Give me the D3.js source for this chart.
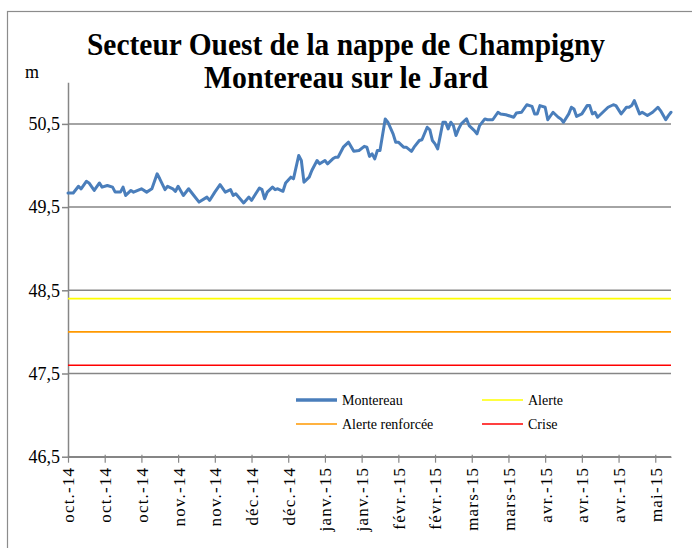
<!DOCTYPE html>
<html>
<head>
<meta charset="utf-8">
<script src="https://cdn.jsdelivr.net/npm/d3@7"></script>
<style>
  html, body { margin: 0; padding: 0; background: #fff; }
  svg { display: block; font-family: "Liberation Serif", serif; }
</style>
</head>
<body>
<svg id="chart" width="692" height="548"></svg>
<script>
// ---------- DATA ----------
const titleLines = ["Secteur Ouest de la nappe de Champigny", "Montereau sur le Jard"];
const yUnit = "m";

const dates = [
  "2014-10-01","2014-10-03","2014-10-05","2014-10-06","2014-10-08","2014-10-09","2014-10-11","2014-10-13",
  "2014-10-14","2014-10-16","2014-10-18","2014-10-19","2014-10-21","2014-10-22","2014-10-23","2014-10-25",
  "2014-10-26","2014-10-29","2014-10-31","2014-11-02","2014-11-04","2014-11-05","2014-11-07","2014-11-08",
  "2014-11-10","2014-11-11","2014-11-12","2014-11-14","2014-11-16","2014-11-18","2014-11-20","2014-11-23",
  "2014-11-24","2014-11-26","2014-11-28","2014-11-30","2014-12-02","2014-12-03","2014-12-04","2014-12-07",
  "2014-12-09","2014-12-10","2014-12-11","2014-12-13","2014-12-14","2014-12-15","2014-12-16","2014-12-18",
  "2014-12-19","2014-12-20","2014-12-22","2014-12-23","2014-12-25","2014-12-26","2014-12-28","2014-12-29",
  "2014-12-30","2015-01-01","2015-01-02","2015-01-04","2015-01-05","2015-01-07","2015-01-08","2015-01-10",
  "2015-01-11","2015-01-12","2015-01-14","2015-01-16","2015-01-18","2015-01-20","2015-01-22","2015-01-23",
  "2015-01-24","2015-01-25","2015-01-26","2015-01-27","2015-01-28","2015-01-30","2015-01-31","2015-02-02",
  "2015-02-03","2015-02-04","2015-02-06","2015-02-07","2015-02-09","2015-02-10","2015-02-12","2015-02-13",
  "2015-02-15","2015-02-16","2015-02-17","2015-02-18","2015-02-19","2015-02-21","2015-02-22","2015-02-23",
  "2015-02-24","2015-02-25","2015-02-26","2015-02-27","2015-02-28","2015-03-02","2015-03-03","2015-03-05",
  "2015-03-06","2015-03-07","2015-03-09","2015-03-10","2015-03-12","2015-03-14","2015-03-15","2015-03-17",
  "2015-03-20","2015-03-21","2015-03-23","2015-03-25","2015-03-27","2015-03-28","2015-03-29","2015-03-30",
  "2015-04-01","2015-04-02","2015-04-04","2015-04-06","2015-04-07","2015-04-08","2015-04-10","2015-04-11",
  "2015-04-12","2015-04-13","2015-04-15","2015-04-17","2015-04-18","2015-04-19","2015-04-20","2015-04-21",
  "2015-04-23","2015-04-25","2015-04-27","2015-04-28","2015-04-30","2015-05-01","2015-05-02","2015-05-03",
  "2015-05-04","2015-05-05","2015-05-07","2015-05-08","2015-05-10","2015-05-12","2015-05-14","2015-05-15",
  "2015-05-17","2015-05-18","2015-05-19"
];
const levels = [
  49.67,49.67,49.75,49.72,49.81,49.79,49.70,49.79,
  49.74,49.76,49.74,49.68,49.68,49.74,49.64,49.70,
  49.68,49.72,49.68,49.72,49.90,49.84,49.71,49.75,
  49.72,49.69,49.75,49.64,49.72,49.64,49.56,49.62,
  49.58,49.68,49.77,49.68,49.71,49.64,49.66,49.55,
  49.62,49.58,49.63,49.73,49.71,49.60,49.68,49.74,
  49.71,49.72,49.69,49.79,49.86,49.84,50.12,50.06,
  49.80,49.86,49.94,50.06,50.02,50.06,50.02,50.08,
  50.10,50.10,50.22,50.28,50.17,50.18,50.23,50.22,
  50.11,50.14,50.08,50.18,50.18,50.56,50.52,50.38,
  50.28,50.28,50.22,50.22,50.17,50.22,50.30,50.31,
  50.46,50.43,50.30,50.26,50.20,50.52,50.52,50.44,
  50.52,50.48,50.36,50.44,50.50,50.56,50.48,50.42,
  50.38,50.48,50.56,50.55,50.55,50.64,50.62,50.61,
  50.58,50.63,50.64,50.73,50.71,50.62,50.62,50.72,
  50.70,50.55,50.64,50.58,50.56,50.52,50.62,50.70,
  50.68,50.59,50.62,50.72,50.72,50.62,50.64,50.58,
  50.64,50.70,50.73,50.72,50.62,50.66,50.70,50.70,
  50.72,50.78,50.62,50.64,50.60,50.64,50.70,50.66,
  50.55,50.60,50.64
];

const thresholdNames = ["Alerte", "Alerte renforcée", "Crise"];
const thresholdValues = [48.4, 48.0, 47.6];

const seriesName = "Montereau";

const xTickDates = [
  "2014-10-01","2014-10-15","2014-10-29","2014-11-12","2014-11-26","2014-12-10","2014-12-24",
  "2015-01-07","2015-01-21","2015-02-04","2015-02-18","2015-03-04","2015-03-18","2015-04-01",
  "2015-04-15","2015-04-29","2015-05-13"
];
const xTickLabels = [
  "oct.-14","oct.-14","oct.-14","nov.-14","nov.-14","déc.-14","déc.-14",
  "janv.-15","janv.-15","févr.-15","févr.-15","mars-15","mars-15","avr.-15",
  "avr.-15","avr.-15","mai-15"
];
const yTicks = [46.5, 47.5, 48.5, 49.5, 50.5];
const yDomain = [46.5, 51];
const xDomain = ["2014-10-01", "2015-05-19"];

// ---------- STYLE ----------
const seriesColor = "#4A7EBB";
const thresholdColors = {"Alerte": "#FFFF00", "Alerte renforcée": "#FF9900", "Crise": "#FF0000"};
const gridColor = "#868686";
const font = "Liberation Serif";

// ---------- DRAW ----------
const parse = d3.utcParse("%Y-%m-%d");
const svg = d3.select("#chart");

const plot = {left: 68, right: 671, top: 82.3, bottom: 456.7};

const x = d3.scaleUtc().domain(xDomain.map(parse)).range([plot.left, plot.right]);
const y = d3.scaleLinear().domain(yDomain).range([plot.bottom, plot.top]);

// outer frame
svg.append("rect")
  .attr("x", 7.5).attr("y", 11.5).attr("width", 720).attr("height", 580)
  .attr("fill", "none").attr("stroke", "#8c8c8c").attr("stroke-width", 1.2);

// title
const titleY = [55, 88];
const titleLen = [518, 284];
titleLines.forEach((t, i) => {
  svg.append("text")
    .attr("x", 346).attr("y", titleY[i])
    .attr("text-anchor", "middle")
    .attr("font-family", font).attr("font-weight", "bold").attr("font-size", 32)
    .attr("textLength", titleLen[i]).attr("lengthAdjust", "spacingAndGlyphs")
    .text(t);
});

// unit
svg.append("text").attr("x", 25).attr("y", 78)
  .attr("font-family", font).attr("font-size", 18).text(yUnit);

// gridlines
svg.append("g").selectAll("line").data(yTicks).join("line")
  .attr("x1", plot.left).attr("x2", plot.right)
  .attr("y1", d => y(d)).attr("y2", d => y(d))
  .attr("stroke", gridColor).attr("stroke-width", 1.5);

// y axis
const yAxis = svg.append("g").attr("transform", `translate(${plot.left},0)`)
  .attr("font-family", font)
  .call(d3.axisLeft(y).tickValues(yTicks).tickSize(6).tickSizeOuter(0)
    .tickFormat(d => d3.format(".1f")(d).replace(".", ",")));
yAxis.attr("font-family", font);
yAxis.select(".domain").attr("stroke", gridColor).attr("stroke-width", 1.5);
yAxis.selectAll(".tick line").attr("stroke", gridColor).attr("stroke-width", 1.5);
yAxis.selectAll(".tick text").attr("font-family", font).attr("font-size", 18)
  .attr("fill", "#000").attr("x", -8);

// x axis
const xAxis = svg.append("g").attr("transform", `translate(0,${plot.bottom})`)
  .call(d3.axisBottom(x).tickValues(xTickDates.map(parse)).tickSize(6).tickSizeOuter(0)
    .tickFormat((d, i) => xTickLabels[i]));
xAxis.attr("font-family", font);
xAxis.select(".domain").attr("stroke", gridColor).attr("stroke-width", 1.5);
xAxis.selectAll(".tick line").attr("stroke", gridColor).attr("stroke-width", 1.2).attr("y1", -2);
xAxis.selectAll(".tick text")
  .attr("font-family", font).attr("font-size", 17).attr("fill", "#000")
  .attr("letter-spacing", 1.2)
  .attr("text-anchor", "end").attr("dy", "0.35em")
  .attr("transform", "translate(0,10) rotate(-90)")
  .attr("x", 0).attr("y", 0);

// thresholds
thresholdNames.forEach((n, i) => {
  svg.append("line")
    .attr("x1", plot.left).attr("x2", plot.right)
    .attr("y1", y(thresholdValues[i])).attr("y2", y(thresholdValues[i]))
    .attr("stroke", thresholdColors[n]).attr("stroke-width", 1.6);
});

// series line
const pts = dates.map((d, i) => [parse(d), levels[i]]);
svg.append("path").datum(pts)
  .attr("fill", "none").attr("stroke", seriesColor).attr("stroke-width", 3)
  .attr("stroke-linejoin", "round").attr("stroke-linecap", "round")
  .attr("d", d3.line().x(d => x(d[0])).y(d => y(d[1])));

// legend
const legendItems = [
  {name: seriesName, color: seriesColor, w: 3.5, col: 0, row: 0},
  {name: thresholdNames[0], color: thresholdColors[thresholdNames[0]], w: 1.6, col: 1, row: 0},
  {name: thresholdNames[1], color: thresholdColors[thresholdNames[1]], w: 1.6, col: 0, row: 1},
  {name: thresholdNames[2], color: thresholdColors[thresholdNames[2]], w: 1.6, col: 1, row: 1}
];
const lg = svg.append("g");
legendItems.forEach(it => {
  const lx = it.col === 0 ? 296 : 482;
  const ly = it.row === 0 ? 400 : 424;
  lg.append("line").attr("x1", lx).attr("x2", lx + 41).attr("y1", ly).attr("y2", ly)
    .attr("stroke", it.color).attr("stroke-width", it.w);
  lg.append("text").attr("x", lx + 46).attr("y", ly + 4.5)
    .attr("font-family", font).attr("font-size", 14).attr("fill", "#000").text(it.name);
});
</script>
</body>
</html>
